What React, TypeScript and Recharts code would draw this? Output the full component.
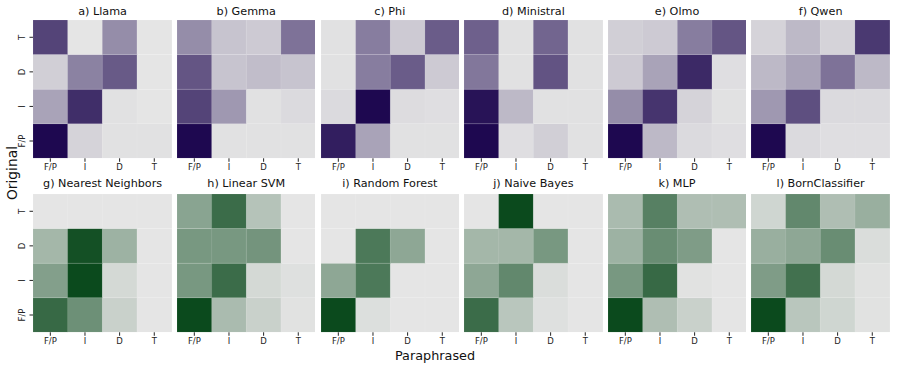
import React from "react";
import { BarChart, Bar, XAxis, YAxis, Cell } from "recharts";

// Column (paraphrased) and row (original) labels
const colLabels = ["F/P", "I", "D", "T"];
// rows listed top -> bottom
const rowLabels = ["T", "D", "I", "F/P"];

const titles = [
  "a) Llama", "b) Gemma", "c) Phi", "d) Ministral", "e) Olmo", "f) Qwen",
  "g) Nearest Neighbors", "h) Linear SVM", "i) Random Forest", "j) Naive Bayes", "k) MLP", "l) BornClassifier",
];

// Matrices: rows T, D, I, F/P (top->bottom), columns F/P, I, D, T; values = colour intensity 0..1
const llama = [
  [0.73, 0.0, 0.4, 0.0],
  [0.1, 0.45, 0.63, 0.0],
  [0.3, 0.83, 0.02, 0.0],
  [1.0, 0.08, 0.02, 0.02],
];
const gemma = [
  [0.4, 0.15, 0.12, 0.52],
  [0.65, 0.15, 0.18, 0.15],
  [0.73, 0.35, 0.02, 0.05],
  [1.0, 0.02, 0.02, 0.02],
];
const phi = [
  [0.02, 0.47, 0.12, 0.62],
  [0.02, 0.47, 0.62, 0.12],
  [0.05, 1.0, 0.04, 0.03],
  [0.9, 0.3, 0.02, 0.02],
];
const ministral = [
  [0.6, 0.02, 0.58, 0.02],
  [0.5, 0.02, 0.66, 0.02],
  [0.95, 0.2, 0.02, 0.02],
  [1.0, 0.03, 0.1, 0.02],
];
const olmo = [
  [0.1, 0.12, 0.47, 0.65],
  [0.12, 0.3, 0.85, 0.03],
  [0.4, 0.8, 0.08, 0.02],
  [1.0, 0.2, 0.05, 0.03],
];
const qwen = [
  [0.08, 0.2, 0.08, 0.78],
  [0.2, 0.3, 0.52, 0.2],
  [0.35, 0.68, 0.05, 0.05],
  [1.0, 0.05, 0.03, 0.03],
];
const nearestNeighbors = [
  [0.0, 0.0, 0.0, 0.0],
  [0.3, 0.96, 0.33, 0.0],
  [0.45, 1.0, 0.08, 0.0],
  [0.8, 0.55, 0.13, 0.0],
];
const linearSvm = [
  [0.42, 0.78, 0.22, 0.0],
  [0.5, 0.5, 0.52, 0.0],
  [0.5, 0.78, 0.08, 0.03],
  [1.0, 0.27, 0.13, 0.02],
];
const randomForest = [
  [0.0, 0.0, 0.0, 0.0],
  [0.0, 0.7, 0.4, 0.0],
  [0.4, 0.7, 0.0, 0.0],
  [1.0, 0.04, 0.0, 0.0],
];
const naiveBayes = [
  [0.0, 1.0, 0.0, 0.0],
  [0.3, 0.3, 0.5, 0.0],
  [0.4, 0.6, 0.05, 0.0],
  [0.78, 0.2, 0.03, 0.0],
];
const mlp = [
  [0.27, 0.65, 0.25, 0.25],
  [0.33, 0.57, 0.47, 0.0],
  [0.5, 0.8, 0.02, 0.0],
  [1.0, 0.25, 0.13, 0.0],
];
const bornClassifier = [
  [0.1, 0.6, 0.25, 0.35],
  [0.35, 0.4, 0.57, 0.05],
  [0.47, 0.75, 0.08, 0.02],
  [1.0, 0.2, 0.1, 0.02],
];

const matrices = [
  llama, gemma, phi, ministral, olmo, qwen,
  nearestNeighbors, linearSvm, randomForest, naiveBayes, mlp, bornClassifier,
];

const LIGHT = [229, 229, 229];
const PURPLE = [30, 8, 80];
const GREEN = [11, 74, 29];

function mix(dark: number[], t: number) {
  const c = LIGHT.map((l, i) => Math.round(l + (dark[i] - l) * t));
  return `rgb(${c[0]},${c[1]},${c[2]})`;
}

const FONT = "DejaVu Sans, sans-serif";
const TICK_FS = 8.5;
const PLOT_W = 138.6;
const PLOT_H = 138.3;
const AXIS_W = 26;
const X_AXIS_H = 24;
const colLeft = (i: number) => 33.3 + 143.6 * i;
const rowTop = [20, 193.5];

function YTick(props: any) {
  const { x, y, payload } = props;
  const label = rowLabels[3 - Math.floor(payload.value)];
  return (
    <text
      transform={`translate(${x - 2.4},${y}) rotate(-90)`}
      textAnchor="middle"
      fontSize={TICK_FS}
      fill="#222"
      stroke="none"
      fontFamily={FONT}
    >
      {label}
    </text>
  );
}

function XTick(props: any) {
  const { x, y, payload } = props;
  return (
    <text
      x={x}
      y={y + 6.4}
      textAnchor="middle"
      fontSize={TICK_FS}
      fill="#222"
      stroke="none"
      fontFamily={FONT}
    >
      {payload.value}
    </text>
  );
}

function Panel({ idx }: { idx: number }) {
  const m = matrices[idx];
  const col = idx % 6;
  const row = Math.floor(idx / 6);
  const dark = row === 0 ? PURPLE : GREEN;
  // stacked rows bottom -> top: F/P (m[3]), I (m[2]), D (m[1]), T (m[0])
  const data = colLabels.map((c, j) => ({
    col: c,
    fp: 1,
    i: 1,
    d: 1,
    t: 1,
    v: [m[3][j], m[2][j], m[1][j], m[0][j]],
  }));
  const keys = ["fp", "i", "d", "t"];
  return (
    <div
      style={{
        position: "absolute",
        left: colLeft(col) - AXIS_W,
        top: rowTop[row],
      }}
    >
      <BarChart
        width={AXIS_W + PLOT_W}
        height={PLOT_H + X_AXIS_H}
        data={data}
        margin={{ top: 0, right: 0, bottom: 0, left: 0 }}
        barCategoryGap={0}
        barGap={0}
      >
        <XAxis
          dataKey="col"
          type="category"
          axisLine={false}
          tickSize={3.5}
          tickMargin={2}
          height={X_AXIS_H}
          tickLine={{ stroke: "#222", strokeWidth: 1 }}
          tick={<XTick />}
          interval={0}
        />
        <YAxis
          type="number"
          domain={[0, 4]}
          ticks={[0.5, 1.5, 2.5, 3.5]}
          width={AXIS_W}
          axisLine={false}
          tickSize={3.5}
          tickMargin={2}
          tickLine={{ stroke: "#222", strokeWidth: 1 }}
          tick={col === 0 ? <YTick /> : false}
          tickFormatter={() => ""}
          allowDataOverflow
        />
        {keys.map((k, r) => (
          <Bar key={k} dataKey={k} stackId="s" isAnimationActive={false} stroke="rgba(255,255,255,0.25)" strokeWidth={0.4}>
            {data.map((d, j) => (
              <Cell key={j} fill={mix(dark, d.v[r])} />
            ))}
          </Bar>
        ))}
      </BarChart>
    </div>
  );
}

export default function App() {
  return (
    <div
      style={{
        position: "absolute",
        left: 0,
        top: 0,
        width: 897,
        height: 369,
        background: "#fff",
        fontFamily: FONT,
      }}
    >
      {matrices.map((_, i) => (
        <Panel key={i} idx={i} />
      ))}
      <svg
        width={897}
        height={369}
        style={{ position: "absolute", left: 0, top: 0, pointerEvents: "none" }}
      >
        {titles.map((t, i) => (
          <text
            key={t}
            x={colLeft(i % 6) + PLOT_W / 2}
            y={i < 6 ? 15 : 186.8}
            textAnchor="middle"
            fontSize={11.2}
            fill="#111"
            fontFamily={FONT}
          >
            {t}
          </text>
        ))}
        <text
          transform="translate(16.8,173) rotate(-90)"
          textAnchor="middle"
          fontSize={13.8}
          fill="#111"
          fontFamily={FONT}
        >
          Original
        </text>
        <text x={435} y={359.8} textAnchor="middle" fontSize={12.8} fill="#111" fontFamily={FONT}>
          Paraphrased
        </text>
      </svg>
    </div>
  );
}
